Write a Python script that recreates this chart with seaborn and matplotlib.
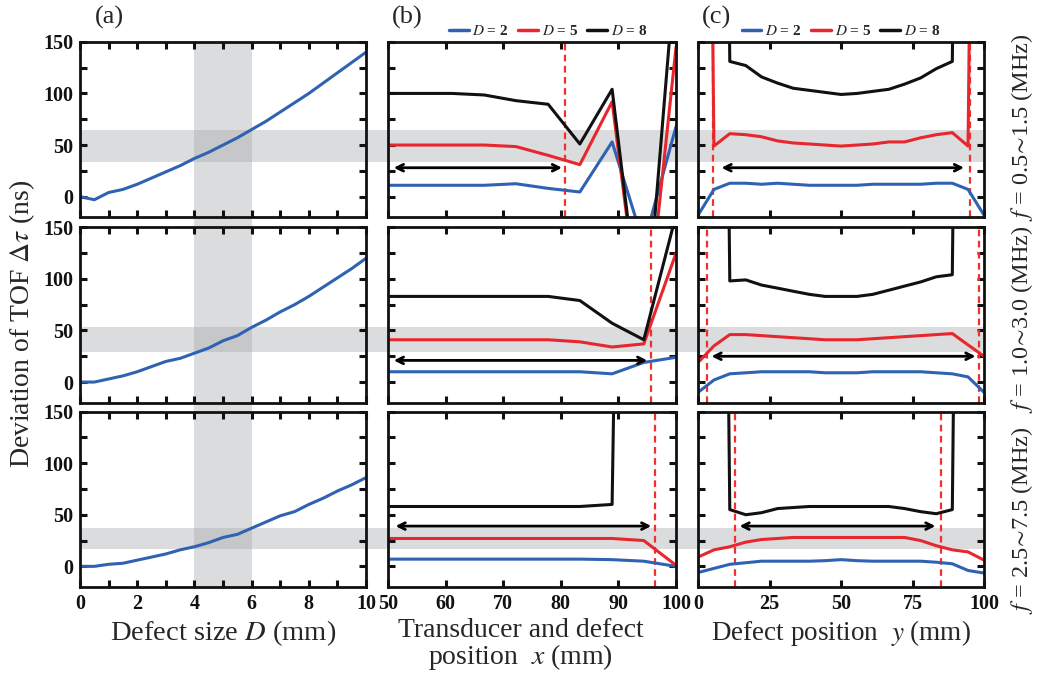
import matplotlib
matplotlib.use('Agg')
import matplotlib.pyplot as plt
import matplotlib.transforms as mtransforms
from matplotlib.patches import Rectangle
from matplotlib.lines import Line2D
import seaborn as sns

# ---- data ----
size_d = [0, 0.5, 1, 1.5, 2, 2.5, 3, 3.5, 4, 4.5, 5, 5.5, 6, 6.5, 7, 7.5, 8, 8.5, 9, 9.5, 10]
size_dev_f1 = [0, -3, 4, 7, 12, 18, 24, 30, 37, 43, 50, 57, 65, 73, 82, 91, 100, 110, 120, 130, 140]
size_dev_f2 = [0, 0, 3, 6, 10, 15, 20, 23, 28, 33, 40, 45, 53, 60, 68, 75, 83, 92, 101, 110, 120]
size_dev_f3 = [0, 0, 2, 3, 6, 9, 12, 16, 19, 23, 28, 31, 37, 43, 49, 53, 60, 66, 73, 79, 86]

pos_x = [50.0, 55.6, 61.1, 66.7, 72.2, 77.8, 83.3, 88.9, 94.4, 100.0]
x_f1_d2 = [11, 11, 11, 11, 12.5, 8, 4.5, 53, -46, 68]
x_f1_d5 = [50, 50, 50, 50, 48.5, 40, 31, 92, -150, 145]
x_f1_d8 = [100, 100, 100, 98.5, 93, 89.5, 51, 104, -150, 230]
x_f2_d2 = [10, 10, 10, 10, 10, 10, 10, 8, 19, 24]
x_f2_d5 = [41, 41, 41, 41, 41, 41, 39, 34, 37, 125]
x_f2_d8 = [83, 83, 83, 83, 83, 83, 79, 57, 41, 162]
x_f3_d2 = [7, 7, 7, 7, 7, 7, 7, 6.5, 5, 0]
x_f3_d5 = [27, 27, 27, 27, 27, 27, 27, 27, 25, 1]
x_f3_d8 = [58, 58, 58, 58, 58, 58, 58, 60, 2000, 2000]

pos_y = [0, 5.56, 11.1, 16.7, 22.2, 27.8, 33.3, 38.9, 44.4, 50, 55.6, 61.1, 66.7, 72.2, 77.8, 83.3, 88.9, 94.4, 100]
y_f1_d2 = [-18, 7, 13, 13, 12, 13, 12, 11, 11, 11, 11, 12, 12, 12, 12, 13, 13, 7, -18]
y_f1_d5 = [1500, 49, 61, 60, 58, 54, 52, 51, 50, 49, 50, 51, 53, 53, 57, 60, 62, 49, 1500]
y_f1_d8 = [1500, 1500, 131, 127, 116, 110, 105, 103, 101, 99, 100, 102, 104, 109, 115, 124, 131, 1500, 1500]
y_f2_d2 = [-10, 2, 8, 9, 10, 10, 10, 10, 9, 9, 9, 10, 10, 10, 10, 9, 8, 5, -10]
y_f2_d5 = [19, 35, 46, 46, 45, 44, 43, 42, 41, 41, 41, 42, 43, 44, 45, 46, 47, 36, 25]
y_f2_d8 = [1500, 1500, 98, 99, 94, 91, 88, 85, 83, 83, 83, 85, 89, 93, 97, 102, 104, 1500, 1500]
y_f3_d2 = [-6, -2, 2, 3.5, 5, 5, 5, 5, 5.5, 6.5, 5.5, 5, 5, 5, 5, 4, 2.5, -4, -6.5]
y_f3_d5 = [9, 16, 19, 23.5, 26, 27, 28, 28, 28, 28, 28, 28, 28, 28, 25, 20, 16, 14, 6]
y_f3_d8 = [1500, 1500, 55, 50, 52, 56, 57, 58, 58, 58, 58, 58, 58, 56, 53, 51, 55, 1500, 1500]

freq_labels = ['0.5', '1.5'], ['1.0', '3.0'], ['2.5', '7.5']
band_lo = [34, 29, 17]
band_hi = [65, 53, 37]
size_band = (4, 6)
limit_x = [80.7, 95.6, 96.3]
limit_y = [(5.3, 95.2), (3.3, 98.3), (13, 85)]
arrow_x = [(51, 80.2, 28), (51, 95, 21), (51.3, 95.7, 39)]
arrow_y = [(8.2, 93, 28), (4.7, 97, 25), (14.5, 83, 39)]

d_labels = ['2', '5', '8']
c_blue, c_red, c_black = '#2f62b2', '#e8262d', '#111111'
colors = [c_blue, c_red, c_black]

# ---- style ----
sns.set_theme(style='ticks')
plt.rcParams['font.family'] = ['Liberation Serif', 'DejaVu Serif']
plt.rcParams['mathtext.fontset'] = 'stix'
plt.rcParams['axes.linewidth'] = 2.0

fig = plt.figure(figsize=(10.42, 6.79), dpi=100)
lefts = [0.0768, 0.3724, 0.6699]
widths = [0.2745, 0.2764, 0.2745]
bottoms = [0.680, 0.4069, 0.1355]
height = 0.2584

axes = [[fig.add_axes([lefts[c], bottoms[r], widths[c], height]) for c in range(3)] for r in range(3)]

series_a = [size_dev_f1, size_dev_f2, size_dev_f3]
series_b = [[x_f1_d2, x_f1_d5, x_f1_d8], [x_f2_d2, x_f2_d5, x_f2_d8], [x_f3_d2, x_f3_d5, x_f3_d8]]
series_c = [[y_f1_d2, y_f1_d5, y_f1_d8], [y_f2_d2, y_f2_d5, y_f2_d8], [y_f3_d2, y_f3_d5, y_f3_d8]]

tick_font = dict(fontsize=14.5, fontweight='bold')
label_y = [0.812, 0.530, 0.234]

for r in range(3):
    ax_a, ax_b, ax_c = axes[r]

    sns.lineplot(x=size_d, y=series_a[r], ax=ax_a, color=c_blue, lw=2.2, sort=False)
    for vals, col in zip(series_b[r], colors):
        sns.lineplot(x=pos_x, y=vals, ax=ax_b, color=col, lw=2.2, sort=False)
    for vals, col in zip(series_c[r], colors):
        sns.lineplot(x=pos_y, y=vals, ax=ax_c, color=col, lw=2.2, sort=False)

    ax_b.axvline(limit_x[r], color='#f0302a', lw=1.6, ls=(0, (3, 2)), zorder=1)
    for xv in limit_y[r]:
        ax_c.axvline(xv, color='#f0302a', lw=1.6, ls=(0, (3, 2)), zorder=1)

    x0, x1, ya = arrow_x[r]
    ax_b.annotate('', xy=(x1, ya), xytext=(x0, ya),
                  arrowprops=dict(arrowstyle='<->', lw=2, color='black', shrinkA=0, shrinkB=0))
    x0, x1, ya = arrow_y[r]
    ax_c.annotate('', xy=(x1, ya), xytext=(x0, ya),
                  arrowprops=dict(arrowstyle='<->', lw=2, color='black', shrinkA=0, shrinkB=0))

    ax_a.set_xlim(0, 10)
    ax_b.set_xlim(50, 100)
    ax_c.set_xlim(0, 100)
    ax_a.set_xticks(range(0, 11))
    ax_b.set_xticks(range(50, 101, 10))
    ax_c.set_xticks([0, 25, 50, 75, 100])

    for c, ax in enumerate(axes[r]):
        ax.set_facecolor('none')
        ax.set_ylim(-20, 150)
        ax.set_yticks([0, 25, 50, 75, 100, 125, 150])
        ax.tick_params(direction='in', length=5, width=2.2, top=True, right=True,
                       colors='#111111', pad=5)
        for sp in ax.spines.values():
            sp.set_visible(True)
            sp.set_color('#111111')
        if c == 0:
            ax.set_yticklabels(['0', '', '50', '', '100', '', '150'], **tick_font)
        else:
            ax.set_yticklabels([])
        if r < 2:
            ax.set_xticklabels([])
    if r == 2:
        ax_a.set_xticklabels([str(v) if v % 2 == 0 else '' for v in range(0, 11)], **tick_font)
        ax_b.set_xticklabels([str(v) for v in range(50, 101, 10)], **tick_font)
        ax_c.set_xticklabels(['0', '25', '50', '75', '100'], **tick_font)

    # horizontal grey band running across all three columns
    trans = mtransforms.blended_transform_factory(fig.transFigure, ax_a.transData)
    fig.add_artist(Rectangle((lefts[0], band_lo[r]), lefts[2] + widths[2] - lefts[0],
                             band_hi[r] - band_lo[r], transform=trans,
                             facecolor='#a7a9ac', alpha=0.4, lw=0, zorder=-1))

    lo, hi = freq_labels[r]
    fig.text(0.981, label_y[r], '$f$ = ' + lo + r'$\!\sim\!$' + hi + ' (MHz)', rotation=90,
             ha='center', va='center', fontsize=17.5)

# vertical grey band in column (a)
trans = mtransforms.blended_transform_factory(axes[0][0].transData, fig.transFigure)
fig.add_artist(Rectangle((size_band[0], bottoms[2]), size_band[1] - size_band[0],
                         bottoms[0] + height - bottoms[2], transform=trans,
                         facecolor='#a7a9ac', alpha=0.4, lw=0, zorder=-1))

# panel letters
for xl, lab in zip([0.091, 0.376, 0.674], ['(a)', '(b)', '(c)']):
    fig.text(xl, 0.975, lab, fontsize=19, ha='left', va='center')

# legends above (b) and (c)
handles = [Line2D([], [], color=col, lw=2.5) for col in colors]
labels = [f'$D$ = {d}' for d in d_labels]
for c, xc in ((1, 0.556), (2, 0.5)):
    axes[0][c].legend(handles, labels, ncol=3, loc='lower center', bbox_to_anchor=(xc, 0.985),
                      frameon=False, handlelength=1.3, handletextpad=0.25, columnspacing=0.6,
                      borderaxespad=0, prop=dict(size=11, weight='bold'))

axes[2][0].set_xlabel('Defect size $D$ (mm)', fontsize=20.5, labelpad=3)
axes[2][1].set_xlabel('Transducer and defect\nposition  $x$ (mm)', fontsize=20, labelpad=3,
                      linespacing=0.95)
axes[2][1].xaxis.label.set_x(0.46)
axes[2][2].set_xlabel('Defect position  $y$ (mm)', fontsize=19.5, labelpad=3)
fig.text(0.021, 0.523, r'Deviation of TOF $\Delta\tau$ (ns)', rotation=90,
         ha='center', va='center', fontsize=20)

fig.savefig('out.png', dpi=100)
